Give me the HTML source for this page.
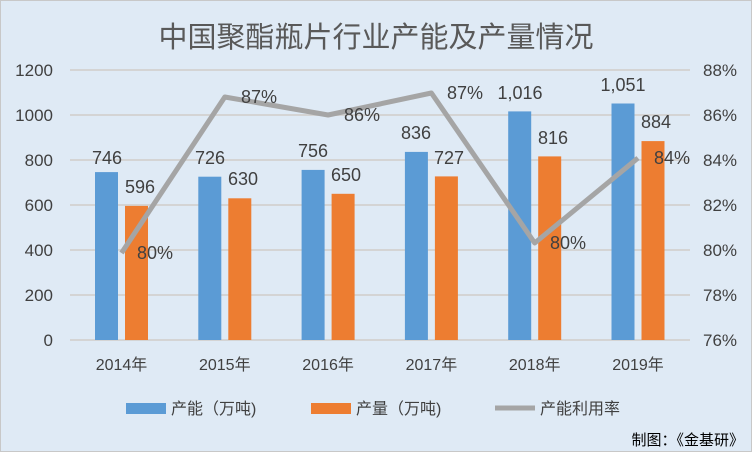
<!DOCTYPE html>
<html><head><meta charset="utf-8"><style>
body{margin:0;width:752px;height:452px;overflow:hidden;background:#fff}
svg{display:block}
text{font-family:"Liberation Sans","Noto Sans CJK SC",sans-serif;fill:#404040}
</style></head><body>
<svg width="752" height="452" xmlns="http://www.w3.org/2000/svg">
<rect x="0.5" y="0.5" width="751" height="451" fill="#dfeaf5" stroke="#c8c8c8"/>
<text x="376" y="47" font-size="29" text-anchor="middle" style="fill:#595959">中国聚酯瓶片行业产能及产量情况</text>
<g stroke="#d4d4d4" stroke-width="2">
<line x1="70" x2="690" y1="70" y2="70"/><line x1="70" x2="690" y1="115" y2="115"/>
<line x1="70" x2="690" y1="160" y2="160"/><line x1="70" x2="690" y1="205" y2="205"/>
<line x1="70" x2="690" y1="250" y2="250"/><line x1="70" x2="690" y1="295" y2="295"/>
<line x1="70" x2="690" y1="340" y2="340"/>
</g>
<g font-size="17" text-anchor="end">
<text x="53" y="76">1200</text><text x="53" y="121">1000</text><text x="53" y="166">800</text>
<text x="53" y="211">600</text><text x="53" y="256">400</text><text x="53" y="301">200</text><text x="53" y="346">0</text>
</g>
<g font-size="17" text-anchor="start">
<text x="703" y="76">88%</text><text x="703" y="121">86%</text><text x="703" y="166">84%</text>
<text x="703" y="211">82%</text><text x="703" y="256">80%</text><text x="703" y="301">78%</text><text x="703" y="346">76%</text>
</g>
<g fill="#5b9bd5">
<rect x="95" y="172.1" width="23" height="167.9"/>
<rect x="198.3" y="176.7" width="23" height="163.3"/>
<rect x="301.6" y="169.9" width="23" height="170.1"/>
<rect x="404.9" y="151.9" width="23" height="188.1"/>
<rect x="508.2" y="111.4" width="23" height="228.6"/>
<rect x="611.5" y="103.5" width="23" height="236.5"/>
</g>
<g fill="#ed7d31">
<rect x="125" y="205.9" width="23" height="134.1"/>
<rect x="228.3" y="198.3" width="23" height="141.7"/>
<rect x="331.6" y="193.8" width="23" height="146.2"/>
<rect x="434.9" y="176.4" width="23" height="163.6"/>
<rect x="538.2" y="156.4" width="23" height="183.6"/>
<rect x="641.5" y="141.1" width="23" height="198.9"/>
</g>
<polyline points="121.5,253 224.8,97 328.1,115 431.4,93 534.7,243 638,158" fill="none" stroke="#a5a5a5" stroke-width="5" stroke-linejoin="round"/>
<g font-size="18" text-anchor="middle">
<text x="107" y="164">746</text><text x="140" y="193">596</text>
<text x="210" y="164">726</text><text x="243" y="185">630</text>
<text x="313" y="157">756</text><text x="346" y="181">650</text>
<text x="416" y="139">836</text><text x="449" y="164">727</text>
<text x="520" y="99">1,016</text><text x="553" y="144">816</text>
<text x="623" y="91">1,051</text><text x="656" y="128">884</text>
<text x="155" y="259">80%</text><text x="259" y="103">87%</text><text x="362" y="121">86%</text>
<text x="465" y="99">87%</text><text x="568" y="249">80%</text><text x="672" y="164">84%</text>
</g>
<g font-size="16" text-anchor="middle" style="fill:#595959">
<text x="121.5" y="370">2014年</text><text x="224.8" y="370">2015年</text><text x="328.1" y="370">2016年</text>
<text x="431.4" y="370">2017年</text><text x="534.7" y="370">2018年</text><text x="638" y="370">2019年</text>
</g>
<rect x="126" y="403" width="40" height="11" fill="#5b9bd5"/>
<text x="171" y="414" font-size="16">产能（万吨)</text>
<rect x="311" y="403" width="40" height="11" fill="#ed7d31"/>
<text x="356" y="414" font-size="16">产量（万吨)</text>
<line x1="495" x2="535" y1="408" y2="408" stroke="#a5a5a5" stroke-width="5"/>
<text x="540" y="414" font-size="16">产能利用率</text>
<text x="744" y="445" font-size="15" text-anchor="end" style="fill:#000">制图：《金基研》</text>
</svg>
</body></html>
